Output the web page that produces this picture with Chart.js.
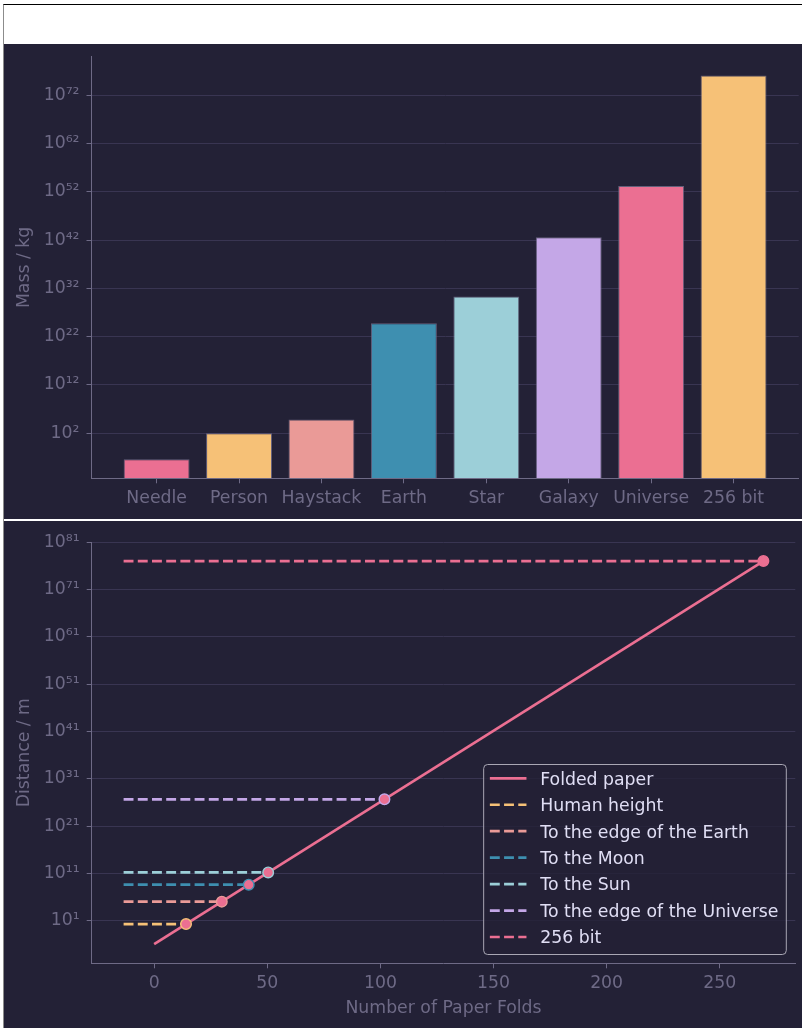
<!DOCTYPE html>
<html>
<head>
<meta charset="utf-8">
<script src="https://cdn.jsdelivr.net/npm/chart.js@4.4.1/dist/chart.umd.min.js"></script>
<style>
  html, body { margin: 0; padding: 0; background: #ffffff; }
  body { position: relative; width: 802px; height: 1028px; overflow: hidden; }
  #frame { position: absolute; left: 3px; top: 4px; width: 799px; height: 1024px;
           border-top: 1px solid #000000; border-left: 1px solid #8c8c8c; box-sizing: border-box; }
  .panel { position: absolute; left: 4px; width: 798px; background: #232136; }
  #massPanel { top: 44px; height: 475px; }
  #foldPanel { top: 521px; height: 507px; }
  canvas { display: block; }
</style>
</head>
<body>
<div id="frame"></div>
<div class="panel" id="massPanel"><canvas id="massChart" width="798" height="475"></canvas></div>
<div class="panel" id="foldPanel"><canvas id="foldChart" width="798" height="507"></canvas></div>
<script>
// ---- Masses (kg) ----
const massCategories = ['Needle', 'Person', 'Haystack', 'Earth', 'Star', 'Galaxy', 'Universe', '256 bit'];
const massValues = [4e-4, 1e2, 7e4, 6e24, 2e30, 3.6e42, 1.5e53, 1.2e76];
const massTickExponents = [2, 12, 22, 32, 42, 52, 62, 72];

// ---- Folding a sheet of paper ----
const paperFolds = [0, 269.3];
const paperDistances = [1e-4, 1.16e77];
const targetLabels = ['Human height', 'To the edge of the Earth', 'To the Moon', 'To the Sun',
                      'To the edge of the Universe', '256 bit'];
const targetFolds = [14.1, 29.9, 41.8, 50.4, 101.8, 269.3];
const targetDistances = [1.75, 1e5, 3.84e8, 1.5e11, 4.4e26, 1.16e77];
const foldTicks = [0, 50, 100, 150, 200, 250];
const distanceTickExponents = [1, 11, 21, 31, 41, 51, 61, 71, 81];
const dashStartFold = -13.5;

// ---- Rosé Pine Moon palette ----
const C = {
  base: '#232136', overlay: '#393552', muted: '#6e6a86', text: '#e0def4',
  love: '#eb6f92', gold: '#f6c177', rose: '#ea9a97', pine: '#3e8fb0', foam: '#9ccfd8', iris: '#c4a7e7'
};
const massColors = [C.love, C.gold, C.rose, C.pine, C.foam, C.iris, C.love, C.gold];
const targetColors = [C.gold, C.rose, C.pine, C.foam, C.iris, C.love];

const FONT_SIZE = 17.3;
Chart.defaults.font.family = '"DejaVu Sans", sans-serif';
Chart.defaults.font.size = FONT_SIZE;
Chart.defaults.color = C.muted;
Chart.defaults.animation = false;

const SUP = { '0': '⁰', '1': '¹', '2': '²', '3': '³', '4': '⁴', '5': '⁵', '6': '⁶', '7': '⁷', '8': '⁸', '9': '⁹', '-': '⁻' };
function powerLabel(v) {
  const e = Math.round(Math.log10(v));
  return '10' + String(e).split('').map(c => SUP[c]).join('');
}

// Fixed axis box sizes so the plot areas sit exactly where intended
function fixWidth(w) {
  return s => { s.width = w; s.paddingTop = 0; s.paddingBottom = 0; };
}
function fixHeight(h) {
  return s => { s.height = h; s.paddingLeft = 0; s.paddingRight = 0; };
}

const gridStyle = { color: C.overlay, lineWidth: 1, tickLength: 5, tickColor: C.muted, tickWidth: 1, offset: false };
const axisBorder = { display: true, color: C.muted, width: 1 };

// ---- Top panel: mass bars on a log axis ----
new Chart(document.getElementById('massChart'), {
  type: 'bar',
  data: {
    datasets: [{
      data: massValues.map((m, i) => ({ x: i, y: m })),
      backgroundColor: massColors,
      borderColor: 'rgba(110,106,134,0.85)',
      borderWidth: 1,
      categoryPercentage: 1,
      barPercentage: 0.8
    }]
  },
  options: {
    responsive: false,
    layout: { padding: { left: 0, top: 12.5, right: 3.3, bottom: 0 } },
    plugins: { legend: { display: false }, tooltip: { enabled: false } },
    scales: {
      x: {
        type: 'linear', min: -0.79, max: 7.79, bounds: 'data', offset: false,
        afterBuildTicks: s => { s.ticks = massCategories.map((_, i) => ({ value: i })); },
        afterFit: fixHeight(40.7),
        ticks: { callback: v => massCategories[v], autoSkip: false, maxRotation: 0, minRotation: 0, padding: 5, color: C.muted },
        grid: Object.assign({}, gridStyle, { drawOnChartArea: false }),
        border: axisBorder
      },
      y: {
        type: 'logarithmic', min: Math.pow(10, -7.32), max: Math.pow(10, 80.0), bounds: 'data',
        afterBuildTicks: s => { s.ticks = massTickExponents.map(e => ({ value: Math.pow(10, e) })); },
        afterFit: fixWidth(87.5),
        ticks: { callback: v => powerLabel(v), autoSkip: false, padding: 7, color: C.muted },
        grid: gridStyle,
        border: axisBorder,
        title: { display: true, text: 'Mass / kg', color: C.muted, padding: { top: 10.1, bottom: 0 } }
      }
    }
  }
});

// ---- Bottom panel: legend box drawn inside the plot area ----
const legendBox = {
  id: 'legendBox',
  afterDraw(chart) {
    const { ctx, chartArea } = chart;
    const items = [{ label: 'Folded paper', color: C.love, dash: [] }]
      .concat(targetLabels.map((label, i) => ({ label, color: targetColors[i], dash: [9.9, 4.3] })));
    ctx.save();
    ctx.font = FONT_SIZE + 'px "DejaVu Sans"';
    const maxW = Math.max(...items.map(it => ctx.measureText(it.label).width));
    const handleLen = 36.6, padL = 6.7, gap = 13.8, padR = 7.3, rowH = 26.45;
    const w = padL + handleLen + gap + maxW + padR;
    const h = 190;
    const right = chartArea.right - 9.5, bottom = chartArea.bottom - 9.3;
    const left = right - w, top = bottom - h;
    ctx.beginPath();
    ctx.roundRect(left + 0.5, top + 0.5, w, h, 4);
    ctx.fillStyle = 'rgba(35,33,54,0.8)';
    ctx.fill();
    ctx.lineWidth = 1;
    ctx.strokeStyle = '#a9a7b4';
    ctx.stroke();
    items.forEach((it, i) => {
      const cy = top + 14.3 + i * rowH;
      ctx.beginPath();
      ctx.setLineDash(it.dash);
      ctx.lineWidth = 2.67;
      ctx.strokeStyle = it.color;
      ctx.moveTo(left + padL, cy);
      ctx.lineTo(left + padL + handleLen, cy);
      ctx.stroke();
      ctx.setLineDash([]);
      ctx.fillStyle = C.text;
      ctx.textBaseline = 'alphabetic';
      ctx.textAlign = 'left';
      ctx.fillText(it.label, left + padL + handleLen + gap, cy + 0.365 * FONT_SIZE);
    });
    ctx.restore();
  }
};

// ---- Bottom panel: paper thickness vs number of folds ----
new Chart(document.getElementById('foldChart'), {
  type: 'line',
  data: {
    datasets: [
      {
        data: targetFolds.map((n, i) => ({ x: n, y: targetDistances[i] })),
        showLine: false,
        pointRadius: 5.3,
        pointBorderWidth: 1.4,
        pointBackgroundColor: C.love,
        pointBorderColor: targetColors
      },
      {
        label: 'Folded paper',
        data: paperFolds.map((n, i) => ({ x: n, y: paperDistances[i] })),
        borderColor: C.love,
        borderWidth: 2.67,
        pointRadius: 0
      }
    ].concat(targetLabels.map((label, i) => ({
      label,
      data: [{ x: dashStartFold, y: targetDistances[i] }, { x: targetFolds[i], y: targetDistances[i] }],
      borderColor: targetColors[i],
      borderWidth: 2.67,
      borderDash: [9.9, 4.3],
      pointRadius: 0
    })))
  },
  options: {
    responsive: false,
    layout: { padding: { left: 0, top: 21, right: 3.2, bottom: 0 } },
    plugins: { legend: { display: false }, tooltip: { enabled: false } },
    scales: {
      x: {
        type: 'linear', min: -27.6, max: 283.4, bounds: 'data',
        afterBuildTicks: s => { s.ticks = foldTicks.map(v => ({ value: v })); },
        afterFit: fixHeight(64.7),
        ticks: { autoSkip: false, maxRotation: 0, minRotation: 0, padding: 5, color: C.muted },
        grid: Object.assign({}, gridStyle, { drawOnChartArea: false }),
        border: axisBorder,
        title: { display: true, text: 'Number of Paper Folds', color: C.muted, padding: { top: 0, bottom: 9.3 } }
      },
      y: {
        type: 'logarithmic', min: Math.pow(10, -8.05), max: Math.pow(10, 81.1), bounds: 'data',
        afterBuildTicks: s => { s.ticks = distanceTickExponents.map(e => ({ value: Math.pow(10, e) })); },
        afterFit: fixWidth(87.7),
        ticks: { callback: v => powerLabel(v), autoSkip: false, padding: 7, color: C.muted },
        grid: gridStyle,
        border: axisBorder,
        title: { display: true, text: 'Distance / m', color: C.muted, padding: { top: 10.1, bottom: 0 } }
      }
    }
  },
  plugins: [legendBox]
});
</script>
</body>
</html>
